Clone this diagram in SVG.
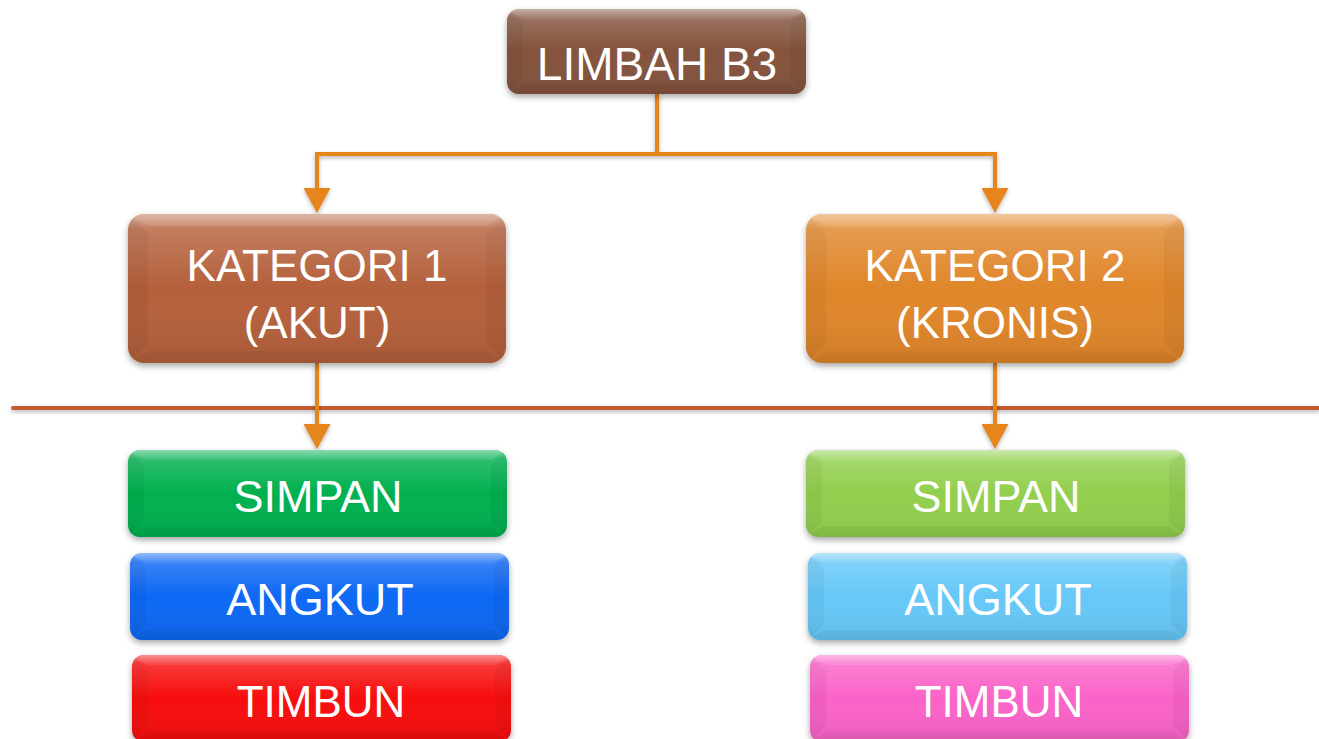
<svg xmlns="http://www.w3.org/2000/svg" width="1319" height="739" viewBox="0 0 1319 739">
<defs>
<style>
.lbl{font-family:"Liberation Sans",Arial,sans-serif;fill:#fff;text-anchor:middle}
.conn{fill:none;stroke:#e6851b;stroke-width:4}
.gloss{fill:url(#gl)}
.bvL{fill:#000;fill-opacity:.045}
.bvT{fill:#fff;fill-opacity:.1}
.bvB{fill:#000;fill-opacity:.04}
</style>
<filter id="sh" x="-10%" y="-10%" width="120%" height="130%">
<feDropShadow dx="0" dy="3" stdDeviation="3" flood-color="#000" flood-opacity=".35"/>
</filter>
<filter id="shl" filterUnits="userSpaceOnUse" x="0" y="80" width="1319" height="380">
<feDropShadow dx="0" dy="2" stdDeviation="2" flood-color="#000" flood-opacity=".3"/>
</filter>
<linearGradient id="gl" x1="0" y1="0" x2="0" y2="1">
<stop offset="0" stop-color="#fff" stop-opacity=".5"/>
<stop offset=".1" stop-color="#fff" stop-opacity=".18"/>
<stop offset=".5" stop-color="#fff" stop-opacity="0"/>
<stop offset="1" stop-color="#000" stop-opacity=".08"/>
</linearGradient>
<clipPath id="cTop"><rect x="0" y="0" width="299" height="85" rx="12"/></clipPath>
<clipPath id="cKat"><rect x="0" y="0" width="378" height="149" rx="16"/></clipPath>
<clipPath id="cSm"><rect x="0" y="0" width="379" height="87" rx="12"/></clipPath>
<marker id="ah" viewBox="0 0 25 27" refX="13" refY="13.5" markerWidth="25" markerHeight="27" markerUnits="userSpaceOnUse" orient="auto">
<path d="M0,0 L25,13.5 L0,27 z" fill="#e6851b"/>
</marker>
</defs>

<g id="divider" filter="url(#shl)">
<line x1="13" y1="408" x2="1319" y2="408" stroke="#c55a2e" stroke-width="4" stroke-linecap="round"/>
</g>

<g id="connectors" filter="url(#shl)">
<path class="conn" d="M657,94 V154 H317 V201" marker-end="url(#ah)"/>
<path class="conn" d="M657,154 H995 V201" marker-end="url(#ah)"/>
<path class="conn" d="M317,363 V437" marker-end="url(#ah)"/>
<path class="conn" d="M995,363 V437" marker-end="url(#ah)"/>
</g>

<g id="limbah" transform="translate(507,9)">
<rect width="299" height="85" rx="12" fill="#84533d" filter="url(#sh)"/>
<g clip-path="url(#cTop)">
<rect width="299" height="85" class="gloss"/>
<polygon class="bvL" points="0,0 16,16 16,69 0,85"/>
<polygon class="bvL" points="299,0 283,16 283,69 299,85"/>
<polygon class="bvT" points="0,0 299,0 283,10 16,10"/>
<polygon class="bvB" points="0,85 299,85 283,75 16,75"/>
</g>
<text class="lbl" x="150" y="71" font-size="46">LIMBAH B3</text>
</g>

<g id="kategori1" transform="translate(128,214)">
<rect width="378" height="149" rx="16" fill="#b5603b" filter="url(#sh)"/>
<g clip-path="url(#cKat)">
<rect width="378" height="149" class="gloss"/>
<polygon class="bvL" points="0,0 20,20 20,129 0,149"/>
<polygon class="bvL" points="378,0 358,20 358,129 378,149"/>
<polygon class="bvT" points="0,0 378,0 358,12 20,12"/>
<polygon class="bvB" points="0,149 378,149 358,137 20,137"/>
</g>
<text class="lbl" x="189" y="67" font-size="44">KATEGORI 1</text>
<text class="lbl" x="189" y="124" font-size="44">(AKUT)</text>
</g>

<g id="kategori2" transform="translate(806,214)">
<rect width="378" height="149" rx="16" fill="#e0862a" filter="url(#sh)"/>
<g clip-path="url(#cKat)">
<rect width="378" height="149" class="gloss"/>
<polygon class="bvL" points="0,0 20,20 20,129 0,149"/>
<polygon class="bvL" points="378,0 358,20 358,129 378,149"/>
<polygon class="bvT" points="0,0 378,0 358,12 20,12"/>
<polygon class="bvB" points="0,149 378,149 358,137 20,137"/>
</g>
<text class="lbl" x="189" y="67" font-size="44">KATEGORI 2</text>
<text class="lbl" x="189" y="124" font-size="44">(KRONIS)</text>
</g>

<g id="simpan1" transform="translate(128,450)">
<rect width="379" height="87" rx="12" fill="#00b050" filter="url(#sh)"/>
<g clip-path="url(#cSm)">
<rect width="379" height="87" class="gloss"/>
<polygon class="bvL" points="0,0 16,16 16,71 0,87"/>
<polygon class="bvL" points="379,0 363,16 363,71 379,87"/>
<polygon class="bvT" points="0,0 379,0 363,10 16,10"/>
<polygon class="bvB" points="0,87 379,87 363,77 16,77"/>
</g>
<text class="lbl" x="190" y="62" font-size="45">SIMPAN</text>
</g>

<g id="angkut1" transform="translate(130,553)">
<rect width="379" height="87" rx="12" fill="#0868f4" filter="url(#sh)"/>
<g clip-path="url(#cSm)">
<rect width="379" height="87" class="gloss"/>
<polygon class="bvL" points="0,0 16,16 16,71 0,87"/>
<polygon class="bvL" points="379,0 363,16 363,71 379,87"/>
<polygon class="bvT" points="0,0 379,0 363,10 16,10"/>
<polygon class="bvB" points="0,87 379,87 363,77 16,77"/>
</g>
<text class="lbl" x="190" y="62" font-size="45">ANGKUT</text>
</g>

<g id="timbun1" transform="translate(132,655)">
<rect width="379" height="87" rx="12" fill="#f70808" filter="url(#sh)"/>
<g clip-path="url(#cSm)">
<rect width="379" height="87" class="gloss"/>
<polygon class="bvL" points="0,0 16,16 16,71 0,87"/>
<polygon class="bvL" points="379,0 363,16 363,71 379,87"/>
<polygon class="bvT" points="0,0 379,0 363,10 16,10"/>
<polygon class="bvB" points="0,87 379,87 363,77 16,77"/>
</g>
<text class="lbl" x="189" y="62" font-size="44">TIMBUN</text>
</g>

<g id="simpan2" transform="translate(806,450)">
<rect width="379" height="87" rx="12" fill="#92cf4e" filter="url(#sh)"/>
<g clip-path="url(#cSm)">
<rect width="379" height="87" class="gloss"/>
<polygon class="bvL" points="0,0 16,16 16,71 0,87"/>
<polygon class="bvL" points="379,0 363,16 363,71 379,87"/>
<polygon class="bvT" points="0,0 379,0 363,10 16,10"/>
<polygon class="bvB" points="0,87 379,87 363,77 16,77"/>
</g>
<text class="lbl" x="190" y="62" font-size="45">SIMPAN</text>
</g>

<g id="angkut2" transform="translate(808,553)">
<rect width="379" height="87" rx="12" fill="#66c8f8" filter="url(#sh)"/>
<g clip-path="url(#cSm)">
<rect width="379" height="87" class="gloss"/>
<polygon class="bvL" points="0,0 16,16 16,71 0,87"/>
<polygon class="bvL" points="379,0 363,16 363,71 379,87"/>
<polygon class="bvT" points="0,0 379,0 363,10 16,10"/>
<polygon class="bvB" points="0,87 379,87 363,77 16,77"/>
</g>
<text class="lbl" x="190" y="62" font-size="45">ANGKUT</text>
</g>

<g id="timbun2" transform="translate(810,655)">
<rect width="379" height="87" rx="12" fill="#fa64c8" filter="url(#sh)"/>
<g clip-path="url(#cSm)">
<rect width="379" height="87" class="gloss"/>
<polygon class="bvL" points="0,0 16,16 16,71 0,87"/>
<polygon class="bvL" points="379,0 363,16 363,71 379,87"/>
<polygon class="bvT" points="0,0 379,0 363,10 16,10"/>
<polygon class="bvB" points="0,87 379,87 363,77 16,77"/>
</g>
<text class="lbl" x="189" y="62" font-size="44">TIMBUN</text>
</g>
</svg>
